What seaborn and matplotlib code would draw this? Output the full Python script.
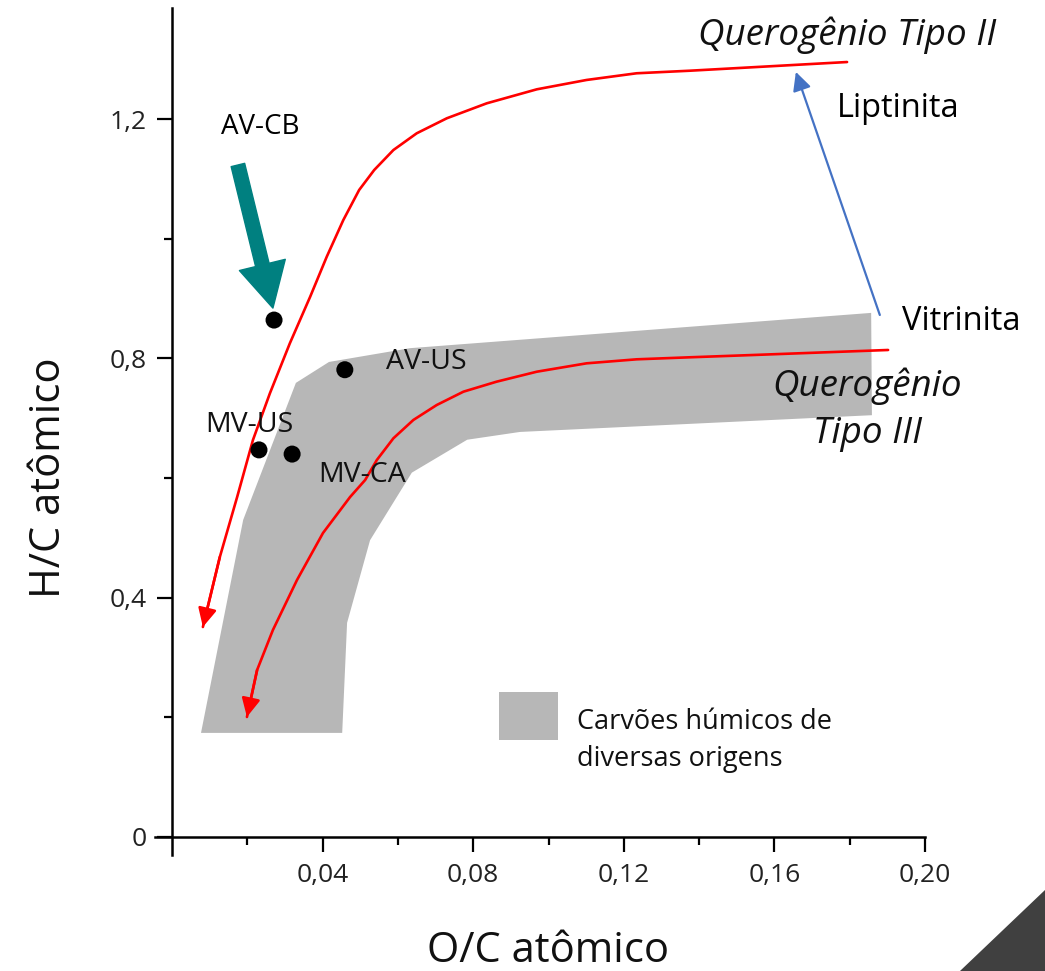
import matplotlib
matplotlib.use("Agg")
import matplotlib.pyplot as plt
import seaborn as sns
import pandas as pd
from matplotlib.patches import Polygon, Rectangle

sns.set_style("ticks")
plt.rcParams["font.family"] = ["Open Sans", "DejaVu Sans"]

# amostras (O/C, H/C atômico)
sample_names = ["AV-CB", "AV-US", "MV-US", "MV-CA"]
sample_oc = [0.0271, 0.0459, 0.0231, 0.0319]
sample_hc = [0.864, 0.781, 0.647, 0.640]

# curva de evolução do querogênio tipo II
tipo2_oc = [0.1793, 0.1376, 0.1234, 0.1101, 0.0969, 0.0836, 0.0730, 0.0650,
            0.0588, 0.0537, 0.0497, 0.0455, 0.0411, 0.0367, 0.0313, 0.0260,
            0.0215, 0.0173, 0.0127, 0.0082]
tipo2_hc = [1.2953, 1.2808, 1.2765, 1.2653, 1.2497, 1.2263, 1.2013, 1.1762,
            1.1482, 1.1148, 1.0814, 1.0312, 0.9699, 0.9031, 0.8252, 0.7416,
            0.6636, 0.5683, 0.4680, 0.3510]

# curva de evolução do querogênio tipo III
tipo3_oc = [0.1902, 0.1543, 0.1376, 0.1234, 0.1101, 0.0969, 0.0862, 0.0774,
            0.0703, 0.0641, 0.0588, 0.0544, 0.0513, 0.0473, 0.0401, 0.0332,
            0.0268, 0.0226, 0.0199]
tipo3_hc = [0.8140, 0.8056, 0.8018, 0.7984, 0.7917, 0.7777, 0.7610, 0.7443,
            0.7220, 0.6970, 0.6664, 0.6301, 0.5967, 0.5683, 0.5081, 0.4296,
            0.3460, 0.2791, 0.2006]

# faixa dos carvões húmicos
faixa_oc = [0.0077, 0.0189, 0.0329, 0.0417, 0.0632, 0.1857, 0.1859, 0.0924,
            0.0784, 0.0637, 0.0526, 0.0465, 0.0452]
faixa_hc = [0.174, 0.530, 0.759, 0.794, 0.817, 0.876, 0.705, 0.677,
            0.664, 0.609, 0.496, 0.358, 0.174]

# vitrinita -> liptinita
maceral_oc = [0.1880, 0.1657]
maceral_hc = [0.8725, 1.2788]

x_major = [0.04, 0.08, 0.12, 0.16, 0.20]
x_minor = [0.02, 0.06, 0.10, 0.14, 0.18]
x_labels = ["0,04", "0,08", "0,12", "0,16", "0,20"]
y_major = [0, 0.4, 0.8, 1.2]
y_minor = [0.2, 0.6, 1.0]
y_labels = ["0", "0,4", "0,8", "1,2"]

df = pd.DataFrame({"amostra": sample_names, "OC": sample_oc, "HC": sample_hc})

fig = plt.figure(figsize=(10.45, 9.71), dpi=100)
ax = fig.add_axes([155 / 1045, 116 / 971, 770 / 1045, 847 / 971])

gray = "#b7b7b7"
ax.add_patch(Polygon(list(zip(faixa_oc, faixa_hc)), closed=True,
                     facecolor=gray, edgecolor="none", zorder=1))

for oc, hc in [(tipo2_oc, tipo2_hc), (tipo3_oc, tipo3_hc)]:
    sns.lineplot(x=oc, y=hc, sort=False, estimator=None, color="red",
                 lw=1.9, ax=ax, zorder=3)
    ax.annotate("", xy=(oc[-1], hc[-1]), xytext=(oc[-2], hc[-2]),
                arrowprops=dict(arrowstyle="-|>", color="red", lw=1.9,
                                mutation_scale=28, shrinkA=0, shrinkB=0),
                zorder=3)

ax.annotate("", xy=(maceral_oc[1], maceral_hc[1]),
            xytext=(maceral_oc[0], maceral_hc[0]),
            arrowprops=dict(arrowstyle="-|>", color="#4472c4", lw=1.6,
                            mutation_scale=28, shrinkA=0, shrinkB=0))

sns.scatterplot(data=df, x="OC", y="HC", color="black", s=150,
                edgecolor="none", ax=ax, zorder=4)

# seta destacando AV-CB
ax.annotate("", xy=(0.0268, 0.884), xytext=(0.0175, 1.1232),
            arrowprops=dict(arrowstyle="simple,head_length=3.2,head_width=3.4,tail_width=1.0",
                            color="#008080", mutation_scale=10,
                            shrinkA=0, shrinkB=0))

ax.text(0.0234, 1.187, "AV-CB", ha="center", va="center", fontsize=20,
        color="black")
ax.text(0.0568, 0.794, "AV-US", ha="left", va="center", fontsize=20.5, color="#111111")
ax.text(0.0088, 0.689, "MV-US", ha="left", va="center", fontsize=20.5, color="#111111")
ax.text(0.0388, 0.605, "MV-CA", ha="left", va="center", fontsize=20.5, color="#111111")

ax.text(0.1397, 1.3237, "Querogênio Tipo II", ha="left", va="baseline",
        fontsize=26.5, style="italic", color="#111111")
ax.text(0.1847, 0.6585, "Querogênio\nTipo III", ha="center", va="baseline",
        fontsize=26.5, style="italic", color="#111111", linespacing=1.42)
ax.text(0.1766, 1.2034, "Liptinita", ha="left", va="baseline", fontsize=23.5,
        color="black")
ax.text(0.1939, 0.8474, "Vitrinita", ha="left", va="baseline", fontsize=23.5,
        color="black")

# legenda
ax.add_patch(Rectangle((0.4468, 0.1358), 0.0766, 0.0567, transform=ax.transAxes,
                       facecolor=gray, edgecolor="none"))
ax.text(0.548, 0.1051, "Carvões húmicos de\ndiversas origens", transform=ax.transAxes,
        ha="left", va="baseline", fontsize=19.5, color="#111111", linespacing=1.44)

ax.set_xlim(-0.00452, 0.20)
ax.set_ylim(-0.0301, 1.3856)
for side in ["top", "right"]:
    ax.spines[side].set_visible(False)
ax.spines["left"].set_position(("data", 0))
ax.spines["bottom"].set_position(("data", 0))
for side in ["left", "bottom"]:
    ax.spines[side].set_linewidth(1.8)
    ax.spines[side].set_color("black")

ax.set_xticks(x_major)
ax.set_xticklabels(x_labels)
ax.set_xticks(x_minor, minor=True)
ax.set_yticks(y_major)
ax.set_yticklabels(y_labels)
ax.set_yticks(y_minor, minor=True)
ax.tick_params(which="major", length=10.5, width=1.6, labelsize=19,
               color="black", labelcolor="#222222")
ax.tick_params(which="minor", length=5.5, width=1.6, color="black")
ax.tick_params(axis="y", which="major", pad=8)
ax.tick_params(axis="x", which="major", pad=8)

ax.set_xlabel("O/C atômico", fontsize=30, color="#111111")
ax.set_ylabel("H/C atômico", fontsize=30, color="#111111")
ax.xaxis.set_label_coords(0.510, -0.089)
ax.yaxis.set_label_coords(-0.11, 0.445)

# canto decorativo
fig.patches.append(Polygon([(960 / 1045, 0), (1, 81 / 971), (1, 0)],
                           closed=True, transform=fig.transFigure,
                           facecolor="#404040", edgecolor="none"))

fig.savefig("out.png", dpi=100)
